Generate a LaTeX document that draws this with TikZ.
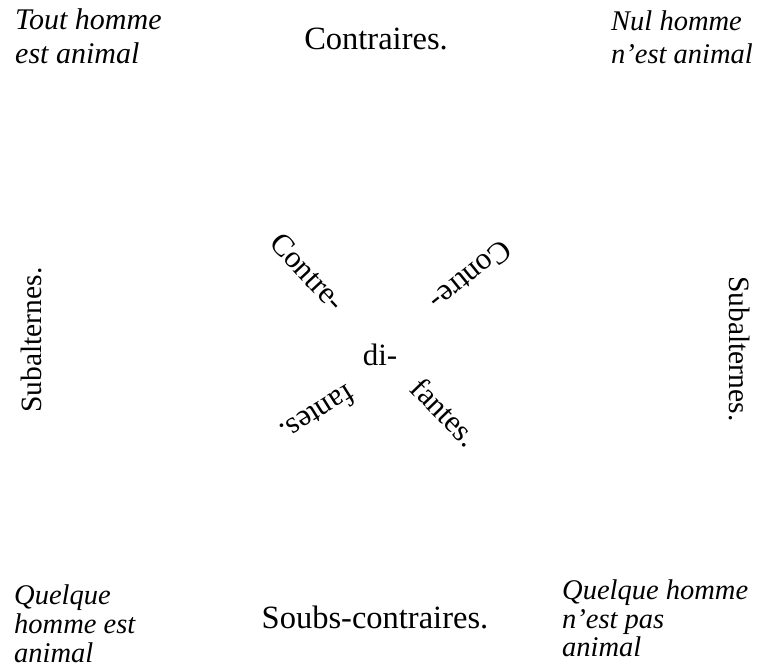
\documentclass[tikz,border=0pt]{standalone}
\usepackage{fontspec}
\setmainfont{Liberation Serif}
\begin{document}
\begin{tikzpicture}[x=1pt,y=-1pt,
  roman/.style={inner sep=0pt,font=\fontsize{32.5}{36}\selectfont},
  corner/.style={inner sep=0pt,align=left,anchor=north west},
  diag/.style={inner sep=0pt,font=\fontsize{31}{36}\selectfont}]
\useasboundingbox (0,0) rectangle (757,671);
% corners
\node[corner,font=\fontsize{30}{34}\itshape\selectfont] (A) at (15,8) {Tout homme\\est animal};
\node[corner,font=\fontsize{28.5}{33}\itshape\selectfont] (E) at (611,11) {Nul homme\\n'est animal};
\node[corner,font=\fontsize{28.5}{29}\itshape\selectfont] (I) at (14,585) {Quelque\\homme est\\animal};
\node[corner,font=\fontsize{28.5}{28.5}\itshape\selectfont] (O) at (562,580) {Quelque homme\\n'est pas\\animal};
% sides
\node[roman,anchor=base] (contr) at (376,50) {Contraires.};
\node[roman,anchor=base] (souscontr) at (375,628) {Soubs-contraires.};
\node[roman,anchor=base,rotate=90,font=\fontsize{29.5}{34}\selectfont] (subL) at (41,340) {Subalternes.};
\node[roman,anchor=base,rotate=-90,font=\fontsize{29.5}{34}\selectfont] (subR) at (729,349) {Subalternes.};
% center
\node[diag,rotate=-47] (c1) at (308,272) {Contre-};
\node[diag,rotate=219] (c2) at (471,276) {Contre-};
\node[diag,rotate=212] (f1) at (318,414) {fantes.};
\node[diag,rotate=-46] (f2) at (445,412) {fantes.};
\node[diag,anchor=base] (di) at (380,365) {di-};
\end{tikzpicture}
\end{document}
